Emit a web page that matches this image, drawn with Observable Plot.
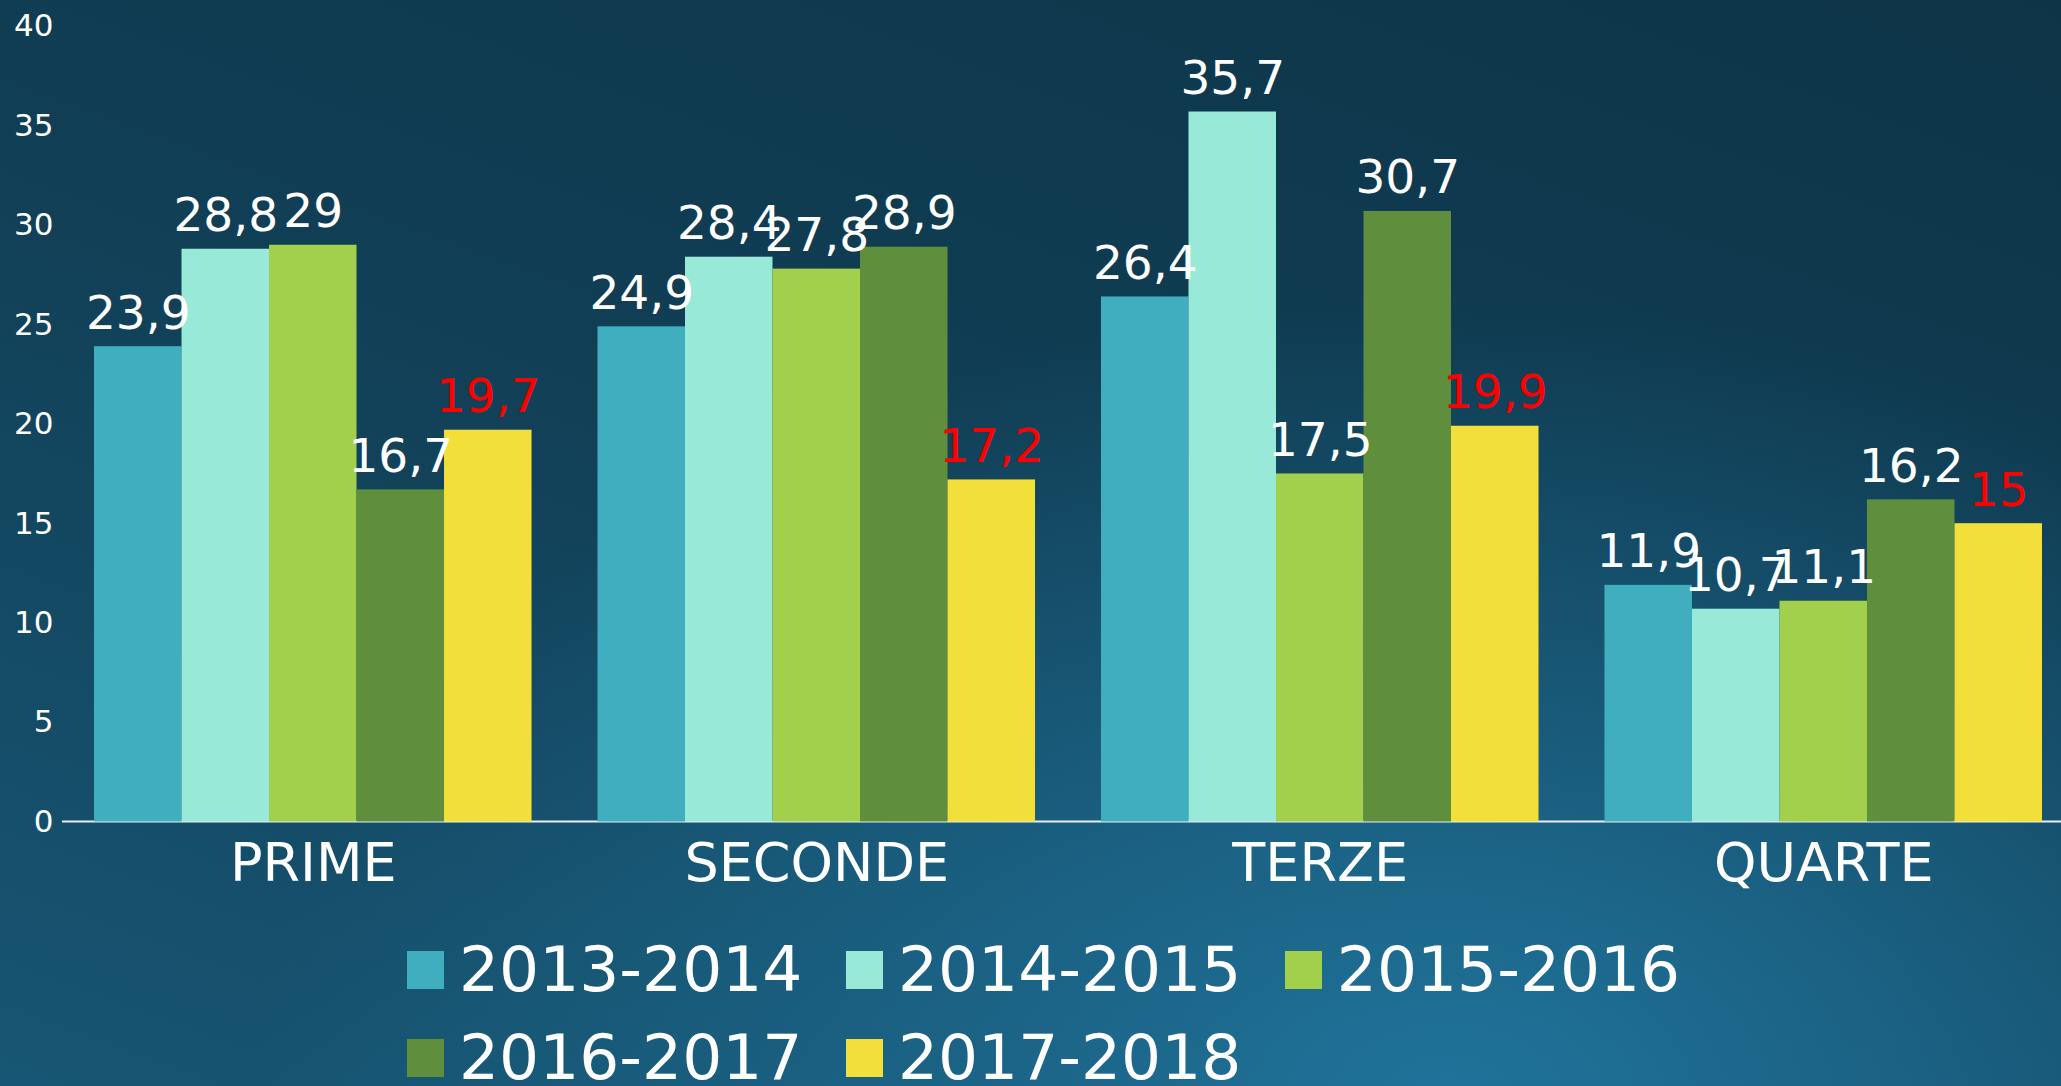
<!DOCTYPE html>
<html>
<head>
<meta charset="utf-8">
<script src="https://cdn.jsdelivr.net/npm/d3@7"></script>
<script src="https://cdn.jsdelivr.net/npm/@observablehq/plot@0.6"></script>
<style>
  html, body { margin: 0; padding: 0; }
  body {
    width: 2061px; height: 1086px; overflow: hidden;
    font-family: "DejaVu Sans", sans-serif;
    background:
      radial-gradient(ellipse 1200px 800px at 1450px 1100px, rgba(32,115,155,1) 0%, rgba(32,115,155,0) 100%),
      linear-gradient(200deg, #0d3447 0%, #113f56 50%, #175674 100%);
  }
  #legend {
    box-sizing: border-box;
    padding-top: 26px;
    margin-left: 407px;
    width: 1400px;
    display: flex; flex-wrap: wrap;
    color: white; font-size: 63px; line-height: 88px;
  }
  .item { display: flex; align-items: center; margin-right: 43.5px; }
  .sw { width: 37px; height: 38px; margin-right: 15px; }
</style>
</head>
<body>
<div id="chart"></div>
<div id="legend"></div>
<script>
const groups = ["PRIME", "SECONDE", "TERZE", "QUARTE"];
const years = ["2013-2014", "2014-2015", "2015-2016", "2016-2017", "2017-2018"];
const v2013 = [23.9, 24.9, 26.4, 11.9];
const v2014 = [28.8, 28.4, 35.7, 10.7];
const v2015 = [29, 27.8, 17.5, 11.1];
const v2016 = [16.7, 28.9, 30.7, 16.2];
const v2017 = [19.7, 17.2, 19.9, 15];
const colors = ["#40aebf", "#98e9d8", "#a2d04c", "#5f8f3d", "#f3df3a"];
const yTicks = [0, 5, 10, 15, 20, 25, 30, 35, 40];

const series = [v2013, v2014, v2015, v2016, v2017];
const data = [];
groups.forEach((g, i) => years.forEach((y, j) => data.push({group: g, year: y, value: series[j][i]})));
const fmt = v => String(v).replace(".", ",");
const last = years[years.length - 1];

const chart = Plot.plot({
  width: 2061, height: 900,
  marginTop: 26, marginBottom: 78.5, marginLeft: 94, marginRight: 19,
  style: {background: "transparent", color: "white", fontFamily: "DejaVu Sans"},
  fx: {domain: groups, paddingInner: 0.131, paddingOuter: 0, round: false, label: null},
  x: {domain: years, axis: null, paddingInner: 0, paddingOuter: 0, round: false},
  y: {domain: [0, 40], axis: null},
  color: {domain: years, range: colors},
  marks: [
    Plot.barY(data, {fx: "group", x: "year", y: "value", fill: "year"}),
    Plot.text(data.filter(d => d.year !== last), {fx: "group", x: "year", y: "value", text: d => fmt(d.value), dy: -18, lineAnchor: "bottom", fill: "white", fontSize: 47}),
    Plot.text(data.filter(d => d.year === last), {fx: "group", x: "year", y: "value", text: d => fmt(d.value), dy: -18, lineAnchor: "bottom", fill: "red", fontSize: 47}),
    Plot.axisY({ticks: yTicks, tickSize: 0, tickPadding: 41, fontSize: 31, anchor: "left", label: null}),
    Plot.axisFx({anchor: "bottom", tickSize: 0, tickPadding: 21, fontSize: 54, label: null})
  ]
});
document.getElementById("chart").appendChild(chart);

// baseline across the plot
const y0 = chart.scale("y").apply(0);
const svg = d3.select(chart.tagName.toLowerCase() === "svg" ? chart : chart.querySelector("svg"));
svg.insert("line", ":first-child")
  .attr("x1", 62).attr("x2", 2061).attr("y1", y0).attr("y2", y0)
  .attr("stroke", "#e8eef2").attr("stroke-width", 2);

const legend = d3.select("#legend");
years.forEach((y, i) => {
  const it = legend.append("div").attr("class", "item");
  it.append("div").attr("class", "sw").style("background", colors[i]);
  it.append("span").text(y);
});
</script>
</body>
</html>
